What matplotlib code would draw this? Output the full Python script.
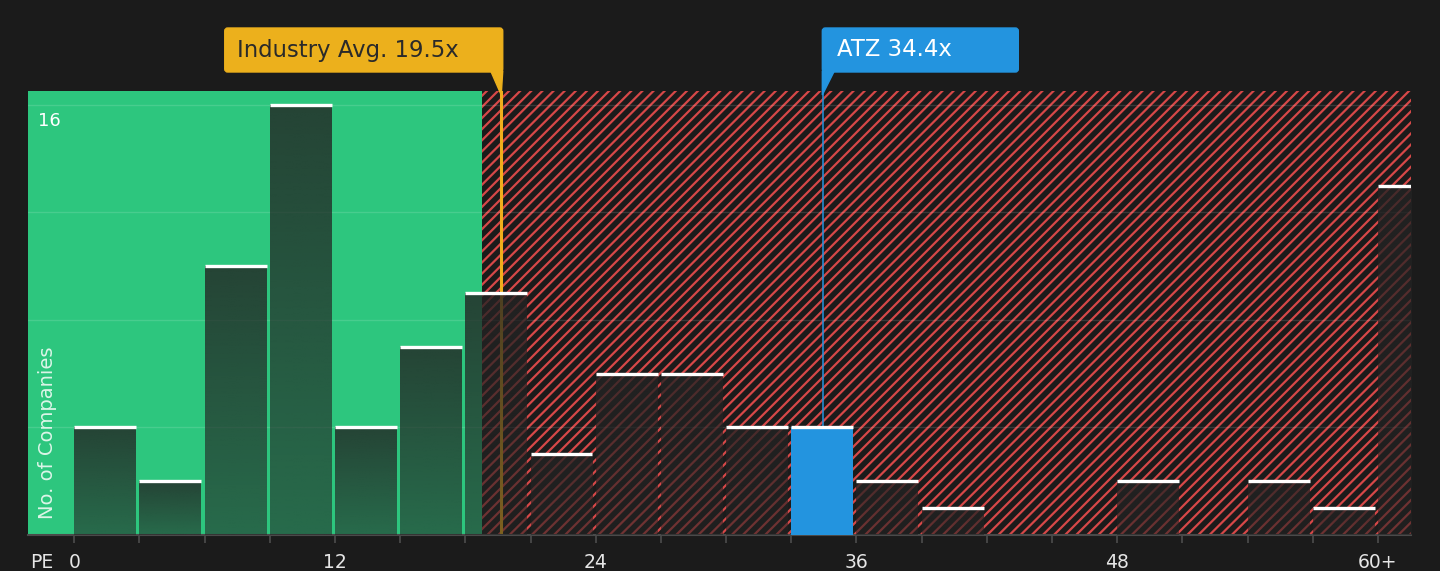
import numpy as np
import matplotlib.pyplot as plt
from matplotlib.patches import Rectangle, FancyBboxPatch, Polygon
from matplotlib.transforms import IdentityTransform

# PE histogram: bins of 3x, last one is 60+
bin_starts = list(range(0, 63, 3))
counts = [4, 2, 10, 16, 4, 7, 9, 3, 6, 6, 4, 4, 2, 1, 0, 0, 2, 0, 2, 1, 13]
tick_values = [0, 12, 24, 36, 48, 60]
tick_labels = ['0', '12', '24', '36', '48', '60+']
industry_avg = 19.5
company = 'ATZ'
company_pe = 34.4
fair_upper = 18.75  # end of the green zone

BG = '#1b1b1b'
GREEN = '#2dc67e'
RED = '#d64848'
GOLD = '#ecb01c'
BLUE = '#2394df'

plt.rcParams['hatch.linewidth'] = 1.6

fig = plt.figure(figsize=(14.4, 5.71), dpi=100, facecolor=BG)
ax = fig.add_axes([28 / 1440, 36 / 571, 1383 / 1440, 444 / 571])
ax.set_facecolor(BG)
xmin, xmax, ymax = -2.13, 61.52, 16.52

# background zones
ax.add_patch(Rectangle((xmin, 0), fair_upper - xmin, ymax, color=GREEN, lw=0, zorder=0))
ax.add_patch(Rectangle((fair_upper, 0), xmax - fair_upper, ymax, facecolor='none',
                       edgecolor=RED, hatch='///', lw=0, zorder=0))

# reference lines (behind the bars)
ind_x = industry_avg + 0.15
atz_x = company_pe + 0.05
ax.plot([ind_x, ind_x], [0, ymax], color='#f0ae1c', lw=2.2, zorder=2)
atz_bin = company_pe // 3
ax.plot([atz_x, atz_x], [counts[int(atz_bin)], ymax], color=BLUE, lw=1.1, zorder=2)

# bars with a dark vertical gradient
width = 2.85
bars = ax.bar(bin_starts, counts, width=width, align='edge', facecolor='none',
              edgecolor='none', zorder=3)
grad = np.ones((100, 1, 4))
grad[..., :3] = np.array([35, 35, 35]) / 255
grad[:, 0, 3] = np.linspace(0.56, 0.8, 100)
for start, c, b in zip(bin_starts, counts, bars):
    if c == 0:
        continue
    if start <= company_pe < start + 3:
        b.set_facecolor(BLUE)
        continue
    im = ax.imshow(grad, extent=[start, min(start + width, xmax), 0, c], origin='lower',
                   aspect='auto', interpolation='bilinear', zorder=3)
    im.set_clip_path(b)

caps = [(s, c) for s, c in zip(bin_starts, counts) if c > 0]
ax.hlines([c for s, c in caps], [s for s, c in caps], [s + width for s, c in caps],
          color='white', lw=2.4, zorder=5)

ax.set_xlim(xmin, xmax)
ax.set_ylim(0, ymax)

# axes styling
ax.set_yticks([0, 4, 8, 12, 16])
ax.grid(axis='y', color='white', alpha=0.13, lw=1)
ax.set_axisbelow(True)
ax.tick_params(axis='y', left=False, labelleft=False)
ax.set_xticks(range(0, 61, 3))
ax.set_xticklabels([tick_labels[tick_values.index(v)] if v in tick_values else ''
                    for v in range(0, 61, 3)])
ax.tick_params(axis='x', color='#4d4d4d', labelcolor='#e6e6e6', length=6, width=1.2,
               pad=7, labelsize=13.5)
for s in ['top', 'left', 'right']:
    ax.spines[s].set_visible(False)
ax.spines['bottom'].set_color('#4a4a4a')
ax.spines['bottom'].set_linewidth(1.5)

ax.annotate('16', xy=(0, 16), xycoords=('axes fraction', 'data'), xytext=(10, -7),
            textcoords='offset pixels', ha='left', va='top', color='white', fontsize=13)
fig.text(48 / 1440, 1 - 433 / 571, 'No. of Companies', rotation=90, ha='center',
         va='center', color='#dcf5e8', fontsize=14)
fig.text(42 / 1440, 1 - 563 / 571, 'PE', ha='center', va='center', color='#e6e6e6',
         fontsize=13.5)

# callout labels, drawn in pixel space
H = 571
box_top, box_bot, tip = H - 28, H - 72, H - 95
px_ind = ax.transData.transform((ind_x, 0))[0]
px_atz = ax.transData.transform((atz_x, 0))[0]
ident = IdentityTransform()

r = px_ind + 1.5
fig.add_artist(FancyBboxPatch((r - 278, box_bot), 278, box_top - box_bot,
                              boxstyle='round,pad=0,rounding_size=3', color=GOLD,
                              transform=ident))
fig.add_artist(Polygon([(r - 12, box_bot + 1), (r, box_bot + 1), (px_ind, tip)],
                       color=GOLD, transform=ident))
fig.text(r - 266, (box_top + box_bot) / 2, f'Industry Avg. {industry_avg}x',
         color='#2a2a2a', fontsize=16.4, ha='left', va='center', transform=ident)

l = px_atz - 0.5
fig.add_artist(FancyBboxPatch((l, box_bot), 196, box_top - box_bot,
                              boxstyle='round,pad=0,rounding_size=3', color=BLUE,
                              transform=ident))
fig.add_artist(Polygon([(l, box_bot + 1), (l + 12, box_bot + 1), (l, tip)],
                       color=BLUE, transform=ident))
fig.text(l + 15, (box_top + box_bot) / 2, f'{company} {company_pe}x',
         color='white', fontsize=16.4, ha='left', va='center', transform=ident)

fig.savefig('out.png', dpi=100, facecolor=BG)
